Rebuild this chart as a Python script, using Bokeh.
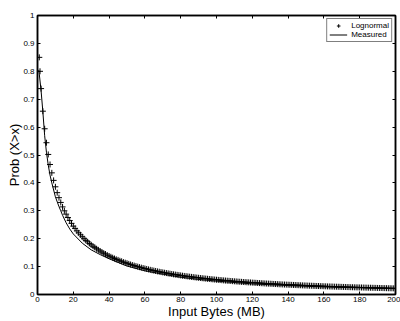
from bokeh.plotting import figure
from bokeh.models import Range1d, FixedTicker, LinearAxis, CustomJSTickFormatter, Legend, LegendItem
from bokeh.embed import file_html
from bokeh.resources import INLINE

# ---- data ----
x_ticks = [0, 20, 40, 60, 80, 100, 120, 140, 160, 180, 200]
y_ticks = [0, 0.1, 0.2, 0.3, 0.4, 0.5, 0.6, 0.7, 0.8, 0.9, 1.0]

lognormal_x = [1, 1.4] + list(range(2, 201))
lognormal_y = [
    0.850, 0.800,
    0.738, 0.657, 0.594, 0.544, 0.502, 0.466, 0.436, 0.409, 0.386,
    0.365, 0.347, 0.330, 0.314, 0.300, 0.288, 0.276, 0.265, 0.255, 0.245,
    0.237, 0.228, 0.221, 0.214, 0.207, 0.200, 0.194, 0.189, 0.183, 0.178,
    0.173, 0.169, 0.164, 0.160, 0.156, 0.152, 0.148, 0.145, 0.141, 0.138,
    0.135, 0.132, 0.129, 0.126, 0.124, 0.121, 0.119, 0.116, 0.114, 0.112,
    0.1096, 0.1075, 0.1054, 0.1035, 0.1016, 0.0998, 0.0980, 0.0963, 0.0947, 0.0931,
    0.0915, 0.0899, 0.0884, 0.0870, 0.0856, 0.0843, 0.0829, 0.0816, 0.0804, 0.0792,
    0.0780, 0.0768, 0.0757, 0.0745, 0.0734, 0.0723, 0.0713, 0.0703, 0.0694, 0.0684,
    0.0674, 0.0665, 0.0656, 0.0648, 0.0639, 0.0631, 0.0623, 0.0615, 0.0606, 0.0599,
    0.0591, 0.0584, 0.0577, 0.0570, 0.0563, 0.0556, 0.0549, 0.0543, 0.0536, 0.0530,
    0.0524, 0.0518, 0.0512, 0.0506, 0.0500, 0.0494, 0.0489, 0.0484, 0.0478, 0.0473,
    0.0468, 0.0463, 0.0458, 0.0453, 0.0448, 0.0444, 0.0439, 0.0435, 0.0431, 0.0426,
    0.0422, 0.0418, 0.0413, 0.0409, 0.0405, 0.0401, 0.0397, 0.0393, 0.0390, 0.0386,
    0.0382, 0.0378, 0.0375, 0.0371, 0.0367, 0.0364, 0.0360, 0.0357, 0.0354, 0.0351,
    0.0348, 0.0345, 0.0342, 0.0339, 0.0336, 0.0333, 0.0330, 0.0327, 0.0324, 0.0322,
    0.0319, 0.0316, 0.0314, 0.0311, 0.0308, 0.0305, 0.0303, 0.0300, 0.0298, 0.0295,
    0.0293, 0.0290, 0.0288, 0.0286, 0.0284, 0.0281, 0.0279, 0.0277, 0.0275, 0.0273,
    0.0271, 0.0269, 0.0267, 0.0265, 0.0262, 0.0260, 0.0258, 0.0256, 0.0255, 0.0253,
    0.0251, 0.0249, 0.0247, 0.0245, 0.0244, 0.0242, 0.0240, 0.0239, 0.0237, 0.0235,
    0.0234, 0.0232, 0.0230, 0.0229, 0.0227, 0.0225, 0.0224, 0.0222, 0.0221, 0.0219,
]

measured_x = [0.7, 1, 2, 3, 4, 5, 6, 7, 8, 10, 12, 13, 14, 16, 18, 20, 25, 30, 35, 40,
              50, 60, 70, 80, 90, 100, 120, 140, 160, 180, 200]
measured_y = [0.805, 0.790, 0.730, 0.655, 0.569, 0.510, 0.464, 0.428, 0.400, 0.350,
              0.315, 0.300, 0.284, 0.257, 0.235, 0.217, 0.184, 0.160, 0.143, 0.128,
              0.102, 0.085, 0.073, 0.062, 0.054, 0.048, 0.038, 0.032, 0.027, 0.024, 0.021]

assert len(lognormal_x) == len(lognormal_y)

FONT = "Liberation Sans"

p = figure(width=400, height=321, output_backend="svg", toolbar_location=None,
           x_range=Range1d(0, 200), y_range=Range1d(0, 1),
           min_border_left=37, min_border_right=5, min_border_top=15, min_border_bottom=0)
p.background_fill_color = "white"
p.border_fill_color = "white"
p.outline_line_color = "black"
p.outline_line_width = 1.5
p.xgrid.visible = False
p.ygrid.visible = False

yfmt = CustomJSTickFormatter(code="return String(Math.round(tick*10)/10);")

for ax in p.xaxis + p.yaxis:
    ax.axis_line_width = 1.5
    ax.major_tick_in = 3
    ax.major_tick_out = 0
    ax.minor_tick_line_color = None
    ax.major_label_text_font = FONT
    ax.major_label_text_font_size = "8px"
    ax.major_label_text_color = "black"
    ax.axis_label_text_font = FONT
    ax.axis_label_text_font_size = "13px"
    ax.axis_label_text_font_style = "normal"
    ax.axis_label_text_color = "black"

p.xaxis.ticker = FixedTicker(ticks=x_ticks)
p.yaxis.ticker = FixedTicker(ticks=y_ticks)
p.yaxis.formatter = yfmt
p.xaxis.axis_label = "Input Bytes (MB)"
p.yaxis.axis_label = "Prob (X>x)"
p.xaxis.major_label_standoff = 2
p.xaxis.axis_label_standoff = -1
p.yaxis.major_label_standoff = 3
p.yaxis.axis_label_standoff = -2

for loc, tick in (("right", y_ticks), ("above", x_ticks)):
    ax = LinearAxis(ticker=FixedTicker(ticks=tick))
    ax.axis_line_width = 1.5
    ax.major_tick_in = 3
    ax.major_tick_out = 0
    ax.minor_tick_line_color = None
    ax.major_label_text_font_size = "0px"
    ax.major_label_standoff = 0
    ax.formatter = CustomJSTickFormatter(code="return '';")
    p.add_layout(ax, loc)

r_log = p.scatter(lognormal_x, lognormal_y, marker="cross", size=6,
                  line_color="black", line_width=1)
r_meas = p.line(measured_x, measured_y, line_color="black", line_width=1)

legend = Legend(items=[LegendItem(label="Lognormal", renderers=[r_log]),
                       LegendItem(label="Measured", renderers=[r_meas])],
                location="top_right")
legend.margin = 3
legend.padding = 2
legend.spacing = 0
legend.label_standoff = 4
legend.glyph_width = 18
legend.glyph_height = 9
legend.label_height = 9
legend.label_text_font = FONT
legend.label_text_font_size = "8px"
legend.label_text_color = "black"
legend.border_line_color = "black"
legend.border_line_width = 1.5
legend.background_fill_alpha = 1
p.add_layout(legend)

open("out.html", "w").write(file_html(p, INLINE))
